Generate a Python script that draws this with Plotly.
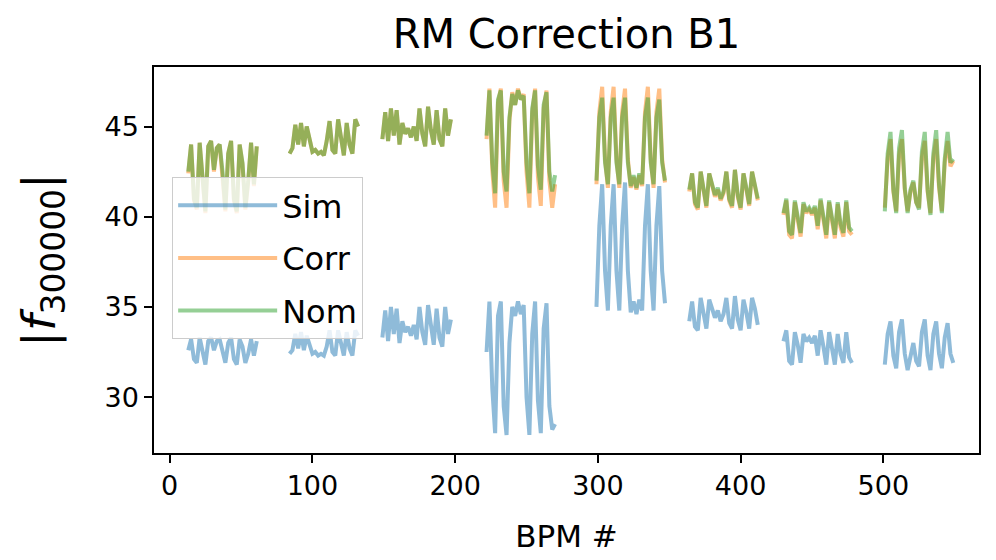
import plotly.graph_objects as go

# BPM index at which each arc segment starts (samples every 2 BPMs)
SEG_START = [13, 84, 149, 222, 299, 364, 430, 501]
BPM_STEP = 2

SIM = [
    [32.6, 33.2, 32.1, 31.9, 33.3, 32.4, 31.8, 33.1, 33.3, 32.6, 33.1, 33.2, 32.6, 31.9, 33.0, 33.3, 32.1, 31.8, 33.2, 32.8, 31.9, 32.4, 33.2, 32.3, 33.1],
    [32.4, 32.6, 33.5, 32.7, 33.6, 32.6, 33.4, 32.8, 32.4, 32.5, 32.3, 32.4, 32.3, 32.8, 33.7, 32.5, 32.3, 33.7, 33.0, 32.3, 33.6, 32.7, 32.3, 33.7, 33.4],
    [33.3, 34.8, 33.1, 35.0, 33.5, 34.9, 33.0, 34.2, 33.6, 33.9, 33.4, 34.0, 33.2, 35.0, 33.6, 32.9, 35.1, 33.8, 32.9, 34.9, 33.3, 32.8, 35.0, 33.5, 34.3],
    [32.5, 35.3, 30.5, 28.0, 34.5, 35.3, 29.5, 27.9, 33.0, 35.0, 34.5, 35.3, 34.6, 35.1, 30.0, 27.9, 33.5, 35.3, 29.8, 28.0, 33.8, 35.2, 29.5, 28.2, 28.5],
    [35.0, 39.5, 41.8, 37.0, 34.8, 39.5, 41.8, 37.0, 34.8, 39.5, 41.9, 37.0, 34.7, 35.3, 34.6, 35.4, 34.8, 39.5, 41.8, 37.0, 34.8, 39.5, 41.7, 37.0, 35.2],
    [34.2, 35.3, 33.9, 33.7, 35.5, 34.6, 33.8, 35.4, 34.9, 34.4, 34.8, 34.2, 34.6, 35.5, 34.1, 33.8, 35.6, 34.3, 33.7, 35.4, 34.7, 33.8, 35.5, 34.9, 34.0],
    [33.1, 33.7, 32.0, 31.8, 33.6, 32.9, 31.9, 33.5, 33.1, 33.3, 33.0, 33.4, 32.3, 33.7, 32.8, 31.8, 33.6, 32.6, 31.8, 33.5, 32.4, 31.9, 33.6, 32.2, 31.9],
    [31.8, 33.5, 34.2, 32.3, 31.6, 33.6, 34.3, 32.4, 31.5, 32.4, 33.0, 32.0, 31.7, 33.6, 34.3, 32.3, 31.5, 33.5, 34.2, 32.4, 31.6, 33.3, 34.1, 32.4, 31.9],
]

CORR = [
    [42.4, 44.0, 40.9, 40.4, 44.1, 41.9, 40.2, 43.9, 44.2, 42.5, 43.8, 44.0, 42.4, 40.3, 43.5, 44.2, 40.9, 40.2, 44.0, 42.9, 40.4, 41.9, 44.1, 41.7, 43.9],
    [43.5, 43.8, 45.1, 44.0, 45.2, 43.9, 45.0, 44.2, 43.6, 43.7, 43.5, 43.6, 43.4, 44.2, 45.3, 43.7, 43.5, 45.4, 44.4, 43.4, 45.2, 44.0, 43.5, 45.4, 45.0],
    [44.3, 45.8, 44.2, 46.0, 44.5, 45.9, 44.0, 45.2, 44.6, 44.9, 44.4, 45.0, 44.2, 46.0, 44.6, 43.9, 46.1, 44.8, 44.0, 45.9, 44.3, 43.9, 46.0, 44.5, 45.4],
    [44.3, 47.1, 42.6, 40.5, 46.3, 47.1, 42.0, 40.5, 45.3, 46.9, 46.2, 47.1, 46.5, 46.8, 42.5, 40.5, 45.8, 47.1, 42.2, 40.6, 46.0, 47.0, 42.0, 40.5, 41.8],
    [41.8, 45.8, 47.2, 43.2, 41.6, 45.8, 47.2, 43.2, 41.6, 45.8, 47.1, 43.2, 41.6, 42.2, 41.5, 42.3, 41.7, 45.8, 47.2, 43.2, 41.6, 45.8, 47.1, 43.2, 41.9],
    [41.4, 42.4, 40.7, 40.4, 42.5, 41.4, 40.5, 42.4, 41.7, 41.1, 41.5, 40.9, 41.3, 42.5, 40.9, 40.5, 42.6, 41.1, 40.4, 42.4, 41.5, 40.6, 42.5, 41.7, 40.9],
    [40.1, 40.9, 39.0, 38.8, 40.8, 39.9, 38.9, 40.7, 40.2, 40.4, 40.1, 40.5, 39.3, 40.9, 39.8, 38.8, 40.8, 39.6, 38.8, 40.7, 39.4, 38.9, 40.8, 39.2, 39.0],
    [40.5, 43.2, 44.3, 41.4, 40.3, 43.4, 44.3, 41.5, 40.3, 41.4, 41.9, 40.8, 40.5, 43.3, 44.2, 41.4, 40.2, 43.2, 44.3, 41.6, 40.3, 43.0, 44.2, 42.8, 43.1],
]

NOM = [
    [42.5, 44.0, 41.0, 40.5, 44.1, 42.0, 40.3, 43.9, 44.2, 42.6, 43.8, 44.0, 42.5, 40.4, 43.5, 44.2, 41.0, 40.3, 44.0, 43.0, 40.5, 42.0, 44.1, 41.8, 43.9],
    [43.5, 43.8, 45.1, 44.0, 45.2, 43.9, 45.0, 44.2, 43.6, 43.7, 43.5, 43.6, 43.4, 44.2, 45.3, 43.7, 43.5, 45.4, 44.4, 43.4, 45.2, 44.0, 43.5, 45.4, 45.0],
    [44.3, 45.8, 44.2, 46.0, 44.5, 45.9, 44.0, 45.2, 44.6, 44.9, 44.4, 45.0, 44.2, 46.0, 44.6, 43.9, 46.1, 44.8, 44.0, 45.9, 44.3, 43.9, 46.0, 44.5, 45.4],
    [44.5, 47.0, 43.0, 41.3, 46.5, 47.0, 42.5, 41.4, 45.5, 46.8, 46.2, 47.0, 46.5, 46.7, 43.0, 41.3, 46.0, 47.0, 42.8, 41.5, 46.2, 46.9, 42.5, 41.4, 42.3],
    [42.0, 45.5, 46.6, 43.0, 41.8, 45.5, 46.6, 43.0, 41.8, 45.5, 46.6, 43.0, 41.7, 42.3, 41.6, 42.4, 41.8, 45.5, 46.6, 43.0, 41.8, 45.5, 46.5, 43.0, 42.0],
    [41.5, 42.4, 40.8, 40.5, 42.5, 41.5, 40.6, 42.4, 41.8, 41.2, 41.6, 41.0, 41.4, 42.5, 41.0, 40.6, 42.6, 41.2, 40.5, 42.4, 41.6, 40.7, 42.5, 41.8, 41.0],
    [40.2, 41.0, 39.2, 39.0, 40.9, 40.0, 39.1, 40.8, 40.3, 40.5, 40.2, 40.6, 39.5, 41.0, 40.0, 39.0, 40.9, 39.8, 39.0, 40.8, 39.6, 39.1, 40.9, 39.4, 39.2],
    [40.3, 43.5, 44.7, 41.5, 40.2, 43.8, 44.8, 41.6, 40.2, 41.5, 42.0, 40.8, 40.4, 43.6, 44.7, 41.5, 40.1, 43.5, 44.8, 41.8, 40.2, 43.2, 44.7, 43.0, 43.2],
]

SERIES = [("Sim", SIM, "rgba(31,119,180,0.5)"),
          ("Corr", CORR, "rgba(255,127,14,0.5)"),
          ("Nom", NOM, "rgba(44,160,44,0.5)")]

X_TICKS = [0, 100, 200, 300, 400, 500]
Y_TICKS = [30, 35, 40, 45]


def flatten(segments):
    xs, ys = [], []
    for start, vals in zip(SEG_START, segments):
        xs.extend(start + BPM_STEP * i for i in range(len(vals)))
        ys.extend(vals)
        xs.append(None)
        ys.append(None)
    return xs, ys


fig = go.Figure()
for name, segs, color in SERIES:
    xs, ys = flatten(segs)
    fig.add_trace(go.Scatter(x=xs, y=ys, mode="lines", name=name,
                             legendgroup=name,
                             line=dict(color=color, width=4),
                             connectgaps=False))

FONT = "DejaVu Sans"
fig.update_layout(
    width=996, height=560,
    margin=dict(l=154, r=17, t=67, b=107),
    paper_bgcolor="white", plot_bgcolor="white",
    font=dict(family=FONT, color="black", size=27),
    title=dict(text="RM Correction B1", x=0.5687, xanchor="center",
               y=0.94, yanchor="middle", yref="container",
               font=dict(size=40, family=FONT, color="black")),
    legend=dict(x=0.022, y=0.715, xanchor="left", yanchor="top",
                bgcolor="rgba(255,255,255,0.8)", bordercolor="#cccccc",
                borderwidth=1, font=dict(size=32, family=FONT),
                tracegroupgap=8, itemwidth=99),
    showlegend=True,
)
fig.update_xaxes(range=[-11, 567], tickvals=X_TICKS, ticks="outside",
                 ticklen=8, tickwidth=1.5, tickcolor="black",
                 showline=True, linecolor="black", linewidth=1.5, mirror=True,
                 showgrid=False, zeroline=False, automargin=False,
                 title=dict(text="BPM #", font=dict(size=31), standoff=25),
                 tickfont=dict(size=27))
fig.update_yaxes(range=[26.9, 48.3], tickvals=Y_TICKS, ticks="outside",
                 ticklen=8, tickwidth=1.5, tickcolor="black",
                 showline=True, linecolor="black", linewidth=1.5, mirror=True,
                 showgrid=False, zeroline=False, automargin=False,
                 title=dict(text="|<i>f</i><sub>300000</sub>|", font=dict(size=47), standoff=34),
                 tickfont=dict(size=27))

fig.write_html("out.html")
